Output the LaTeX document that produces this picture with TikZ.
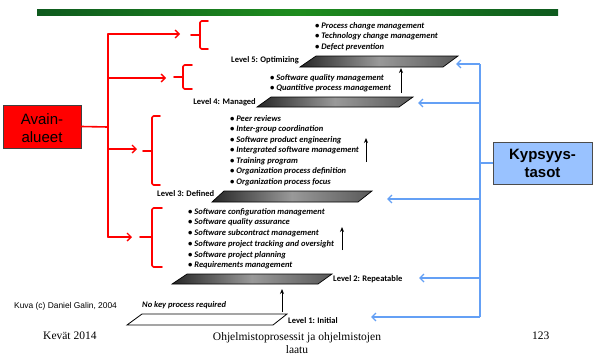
\documentclass[tikz,border=0pt]{standalone}
\usepackage{fontspec}
\setmainfont{Liberation Serif}
\newfontfamily\arialf{Liberation Sans}
\newfontfamily\carl{Carlito}
\usetikzlibrary{arrows.meta}
\definecolor{keyred}{RGB}{255,0,0}
\definecolor{lvlblue}{RGB}{100,160,245}
\definecolor{boxblue}{RGB}{153,194,255}
\definecolor{gdark}{RGB}{14,90,30}
\definecolor{gbright}{RGB}{30,140,30}
\tikzset{
  redln/.style={draw=keyred, line width=1.6pt, line cap=round, line join=round},
  redarr/.style={redln, -{Straight Barb[length=4pt,width=8pt,line width=1.4pt]}},
  blueln/.style={draw=lvlblue, line width=1.6pt, line join=round},
  bluearr/.style={blueln, -{Straight Barb[length=4pt,width=8pt,line width=1.4pt]}},
  plane/.style={draw=black, line width=0.7pt, left color=black!85, right color=black!65, middle color=black!40},
  lvl/.style={font=\carl\bfseries\fontsize{8.5}{10}\selectfont, inner sep=0pt, text height=6pt, text depth=1.5pt},
  item/.style={font=\carl\bfseries\itshape\fontsize{8.5}{10}\selectfont, inner sep=0pt, anchor=west, text height=6pt, text depth=1.5pt},
  uparr/.style={draw=black, line width=0.9pt, -{Stealth[length=5pt,width=4pt]}},
  foot/.style={font=\fontsize{11.5}{13}\selectfont, inner sep=0pt}
}
\begin{document}
\begin{tikzpicture}[x=1pt,y=-1pt]
\useasboundingbox (0,0) rectangle (594,356);
% green bar
\shade[left color=gdark, right color=gdark, middle color=gbright] (37,9) rectangle (558,15);

% planes
\shadedraw[plane] (300,67) -- (316,56) -- (458,56) -- (443,67) -- cycle;
\shadedraw[plane] (257,107) -- (271,97) -- (413,97) -- (399,107) -- cycle;
\shadedraw[plane] (212,202) -- (224,191) -- (372,191) -- (358,202) -- cycle;
\shadedraw[plane] (172,284) -- (187,274) -- (332,274) -- (318,284) -- cycle;
\draw[line width=0.8pt, fill=white] (127,325) -- (142,314) -- (287,314) -- (273,325) -- cycle;

% level labels
\node[lvl, anchor=east] (l5) at (299,60) {Level 5: Optimizing};
\node[lvl, anchor=east] (l4) at (256,102) {Level 4: Managed};
\node[lvl, anchor=west] (l3) at (157,194) {Level 3: Defined};
\node[lvl, anchor=west] (l2) at (333,279) {Level 2: Repeatable};
\node[lvl, anchor=west] (l1) at (288,321) {Level 1: Initial};

% lists
\node[item] (a1) at (315,26) {• Process change management};
\node[item] (a2) at (315,36.5) {• Technology change management};
\node[item] (a3) at (315,47) {• Defect prevention};

\node[item] (b1) at (270,78) {• Software quality management};
\node[item] (b2) at (270,88.5) {• Quantitive process management};

\node[item] (c1) at (230,119) {• Peer reviews};
\node[item] (c2) at (230,129.5) {• Inter-group coordination};
\node[item] (c3) at (230,140) {• Software product engineering};
\node[item] (c4) at (230,150.5) {• Intergrated software management};
\node[item] (c5) at (230,161) {• Training program};
\node[item] (c6) at (230,171.5) {• Organization process definition};
\node[item] (c7) at (230,182) {• Organization process focus};

\node[item] (d1) at (188,212) {• Software configuration management};
\node[item] (d2) at (188,222.7) {• Software quality assurance};
\node[item] (d3) at (188,233.4) {• Software subcontract management};
\node[item] (d4) at (188,244.1) {• Software project tracking and oversight};
\node[item] (d5) at (188,254.8) {• Software project planning};
\node[item] (d6) at (188,265.5) {• Requirements management};

\node[item] (e1) at (142,305) {No key process required};

% black up arrows
\coordinate (u1a) at (282,312); \coordinate (u1b) at (282,289);
\coordinate (u2a) at (342,250); \coordinate (u2b) at (342,227);
\coordinate (u3a) at (366,162); \coordinate (u3b) at (366,138);
\coordinate (u4a) at (401,93);  \coordinate (u4b) at (401,68);
\draw[uparr] (u1a) -- (u1b);
\draw[uparr] (u2a) -- (u2b);
\draw[uparr] (u3a) -- (u3b);
\draw[uparr] (u4a) -- (u4b);

% red key areas box
\node[draw=black!75, line width=0.8pt, fill=keyred, minimum width=78pt, minimum height=43pt, inner sep=0pt, align=center,
  font=\arialf\fontsize{15}{18}\selectfont] (av) at (42,126.5) {\rule{0pt}{14pt}Avain-\\alueet};
\coordinate (rj) at (108,127);
\coordinate (rt) at (108,34);
\coordinate (rb) at (108,237);
\coordinate (r1) at (108,34);  \coordinate (t1) at (180,34);
\coordinate (r2) at (108,78);  \coordinate (t2) at (166,78);
\coordinate (r3) at (108,149); \coordinate (t3) at (137,149);
\coordinate (r4) at (108,237); \coordinate (t4) at (132,237);
\draw[redln] (av.east) -- (rj);
\draw[redln] (rt) -- (rb);
\draw[redarr] (r1) -- (t1);
\draw[redarr] (r2) -- (t2);
\draw[redarr] (r3) -- (t3);
\draw[redarr] (r4) -- (t4);
% red braces
\draw[redln, rounded corners=1.5pt] (208,21) -- (200,21) -- (200,49) -- (208,49);
\draw[redln] (191,35) -- (200,35);
\draw[redln, rounded corners=1.5pt] (192,65) -- (183,65) -- (183,89) -- (192,89);
\draw[redln] (174,77) -- (183,77);
\draw[redln, rounded corners=1.5pt] (160,116) -- (152,116) -- (152,185) -- (160,185);
\draw[redln] (143,151) -- (152,151);
\draw[redln, rounded corners=1.5pt] (162,208) -- (152,208) -- (152,267) -- (162,267);
\draw[redln] (140,237) -- (152,237);

% blue maturity levels box
\node[draw=black!70, line width=0.8pt, fill=boxblue, minimum width=99pt, minimum height=42pt, inner sep=0pt, align=center,
  font=\arialf\bfseries\fontsize{15}{18}\selectfont] (ky) at (542.5,163) {Kypsyys-\\tasot};
\coordinate (bj) at (480,163);
\coordinate (bt) at (480,64);
\coordinate (bb) at (480,317);
\coordinate (b5) at (480,64);  \coordinate (s5) at (456,64);
\coordinate (b4) at (480,103); \coordinate (s4) at (418,103);
\coordinate (b3) at (480,199); \coordinate (s3) at (387,199);
\coordinate (b2) at (480,278); \coordinate (s2) at (419,278);
\coordinate (b1) at (480,317); \coordinate (s1) at (371,317);
\draw[blueln] (ky.west) -- (bj);
\draw[blueln] (bt) -- (bb);
\draw[bluearr] (b5) -- (s5);
\draw[bluearr] (b4) -- (s4);
\draw[bluearr] (b3) -- (s3);
\draw[bluearr] (b2) -- (s2);
\draw[bluearr] (b1) -- (s1);

% credits and footer
\node[font=\arialf\fontsize{8.4}{10}\selectfont, inner sep=0pt, anchor=west] (kuva) at (14,306) {Kuva (c) Daniel Galin, 2004};
\node[foot, anchor=west] (kev) at (43,336) {Kevät 2014};
\node[foot, align=center, font=\fontsize{11.5}{12.5}\selectfont] (tit) at (297,343) {Ohjelmistoprosessit ja ohjelmistojen\\laatu};
\node[foot, anchor=west] (pg) at (532,336) {123};
\end{tikzpicture}
\end{document}
